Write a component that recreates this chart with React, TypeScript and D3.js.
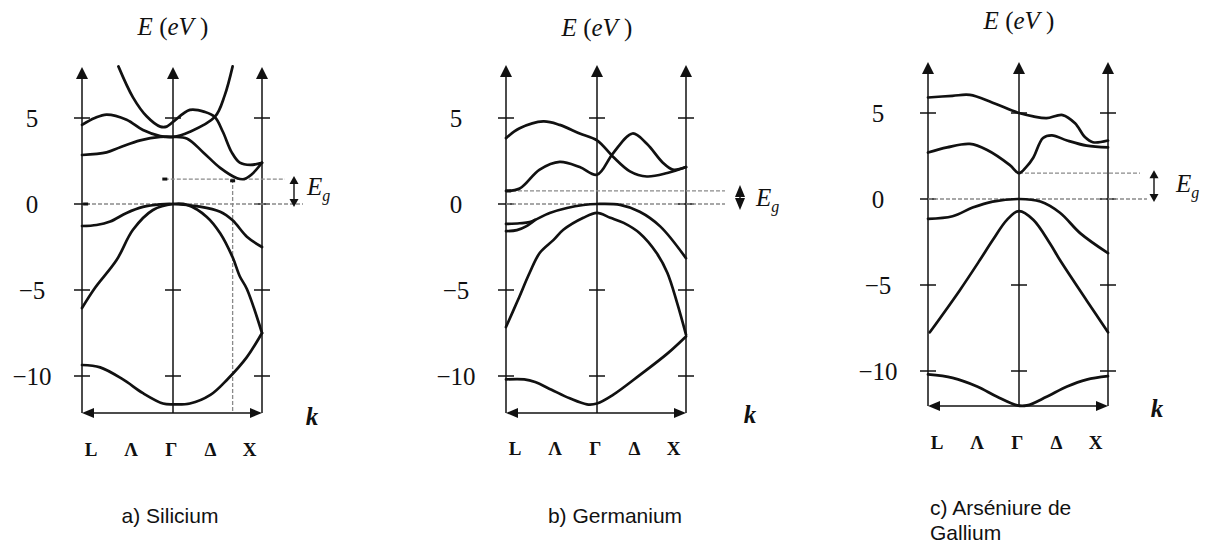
import React from 'react';
import * as d3 from 'd3';

// Band points are [k, E]: k runs L = -1, Γ = 0, X = 1; E in eV.
type Pt = [number, number];

const kPointLabels = ['L', 'Λ', 'Γ', 'Δ', 'X'];
const kPointPositions = [-0.9, -0.46, -0.02, 0.42, 0.86];
const energyTicks = [5, 0, -5, -10];
const energyTickLabels = ['5', '0', '−5', '−10'];

// a) Silicium
const siCondA: Pt[] = [[-0.6, 8.0], [-0.44, 6.2], [-0.29, 5.1], [-0.14, 4.5], [-0.07, 4.5], [0, 4.77], [0.19, 5.47], [0.36, 5.35], [0.47, 5.06], [0.56, 4.2], [0.66, 3.0], [0.75, 2.4], [0.87, 2.27], [1, 2.4]];
const siCondB: Pt[] = [[-1, 4.6], [-0.86, 5.0], [-0.73, 5.2], [-0.51, 4.9], [-0.33, 4.3], [-0.14, 3.95], [0, 3.9], [0.19, 4.2], [0.47, 5.06], [0.58, 6.3], [0.67, 8.0]];
const siCondC: Pt[] = [[-1, 2.85], [-0.73, 3.0], [-0.58, 3.3], [-0.36, 3.7], [-0.14, 3.9], [0, 3.9], [0.16, 3.8], [0.34, 3.0], [0.53, 2.1], [0.72, 1.5], [0.8, 1.45], [0.88, 1.7], [1, 2.4]];
const siValHeavy: Pt[] = [[-1, -1.28], [-0.84, -1.22], [-0.69, -1.02], [-0.51, -0.52], [-0.33, -0.17], [-0.14, -0.02], [0, 0], [0.3, -0.15], [0.53, -0.45], [0.67, -0.95], [0.83, -1.9], [1, -2.5]];
const siValLight: Pt[] = [[-1, -6.05], [-0.86, -4.9], [-0.62, -3.26], [-0.44, -1.5], [-0.22, -0.35], [0, 0], [0.16, -0.05], [0.38, -0.75], [0.53, -1.7], [0.67, -3.1], [0.75, -4.2], [0.83, -4.94], [1, -7.5]];
const siValLow: Pt[] = [[-1, -9.36], [-0.8, -9.5], [-0.55, -10.2], [-0.33, -11.0], [-0.11, -11.6], [0, -11.65], [0.19, -11.6], [0.42, -11.1], [0.61, -10.2], [0.83, -8.9], [1, -7.5]];

// b) Germanium
const geCondA: Pt[] = [[-1, 3.83], [-0.85, 4.4], [-0.59, 4.8], [-0.41, 4.6], [-0.19, 4.1], [0, 3.7], [0.18, 2.75], [0.37, 1.9], [0.56, 1.6], [0.79, 1.8], [1, 2.15]];
const geCondB: Pt[] = [[-1, 0.76], [-0.85, 0.9], [-0.63, 2.0], [-0.41, 2.45], [-0.19, 2.15], [0, 1.7], [0.18, 2.95], [0.4, 4.1], [0.56, 3.5], [0.74, 2.4], [0.85, 2.0], [1, 2.15]];
const geValHeavy: Pt[] = [[-1, -1.16], [-0.85, -1.12], [-0.74, -1.05], [-0.52, -0.52], [-0.33, -0.23], [-0.15, -0.06], [0, 0], [0.26, -0.05], [0.48, -0.45], [0.71, -1.3], [1, -3.15]];
const geValSplit: Pt[] = [[-1, -1.58], [-0.88, -1.52], [-0.78, -1.3], [-0.68, -0.92]];
const geValLight: Pt[] = [[-1, -7.15], [-0.87, -5.6], [-0.74, -4.0], [-0.63, -2.85], [-0.48, -2.1], [-0.37, -1.5], [-0.15, -0.8], [0, -0.52], [0.15, -0.8], [0.3, -1.1], [0.48, -1.7], [0.67, -2.85], [0.79, -4.0], [0.9, -5.75], [1, -7.6]];
const geValLow: Pt[] = [[-1, -10.2], [-0.8, -10.2], [-0.68, -10.35], [-0.5, -10.8], [-0.3, -11.3], [-0.11, -11.65], [0, -11.6], [0.18, -11.1], [0.48, -9.95], [0.79, -8.7], [1, -7.7]];

// c) Arséniure de Gallium
const gaCondA: Pt[] = [[-1, 5.9], [-0.73, 6.0], [-0.54, 6.05], [-0.29, 5.6], [0, 5.0], [0.16, 4.8], [0.31, 4.7], [0.49, 4.88], [0.63, 4.4], [0.74, 3.6], [0.83, 3.3], [1, 3.4]];
const gaCondB: Pt[] = [[-1, 2.7], [-0.79, 3.0], [-0.54, 3.2], [-0.35, 2.85], [-0.1, 1.97], [0, 1.5], [0.08, 1.85], [0.16, 2.4], [0.27, 3.55], [0.37, 3.7], [0.54, 3.4], [0.76, 3.1], [1, 3.0]];
const gaValHeavy: Pt[] = [[-1, -1.15], [-0.73, -1.0], [-0.51, -0.5], [-0.29, -0.15], [0, 0], [0.24, -0.15], [0.46, -0.8], [0.69, -2.0], [1, -3.15]];
const gaValLight: Pt[] = [[-0.98, -7.75], [-0.65, -5.3], [-0.43, -3.55], [-0.29, -2.4], [-0.13, -1.2], [0, -0.7], [0.16, -1.2], [0.35, -2.6], [0.46, -3.55], [0.76, -5.9], [1, -7.75]];
const gaValLow: Pt[] = [[-1, -10.2], [-0.73, -10.4], [-0.46, -10.9], [-0.24, -11.5], [-0.02, -12.0], [0.09, -12.0], [0.31, -11.5], [0.54, -10.9], [0.76, -10.5], [1, -10.3]];

// Band gap levels (eV)
const siGap = 1.45;
const geGap = 0.76;
const gaGap = 1.5;

interface Panel {
  bands: Pt[][];
  caption: string[];
  captionX: number;
  captionY: number;
  captionAnchor: 'middle' | 'start';
  xL: number; xG: number; xX: number;
  y0: number; yTop: number; yBottom: number;
  titleY: number;
  kLabelY: number;
  kSymX: number; kSymY: number;
  gap: number;
  gapStartK: number;
  gapUpperEnd: number;
  gapZeroStart: number;
  gapZeroEnd: number;
  gapArrowX: number;
  arrowOverhang: number;
  arrowHead: number;
  egX: number; egY: number;
  verticalK?: number;
  marks: Pt[];
}

const panels: Panel[] = [
  {
    bands: [siCondA, siCondB, siCondC, siValHeavy, siValLight, siValLow],
    caption: ['a) Silicium'], captionX: 170, captionY: 523, captionAnchor: 'middle',
    xL: 82, xG: 173, xX: 262, y0: 204, yTop: 67, yBottom: 413, titleY: 35,
    kLabelY: 456, kSymX: 312, kSymY: 425,
    gap: siGap, gapStartK: -0.09, gapUpperEnd: 285, gapZeroStart: 86, gapZeroEnd: 303,
    gapArrowX: 294, arrowOverhang: 3, arrowHead: 8, egX: 307, egY: 195, verticalK: 0.67,
    marks: [[-0.09, siGap], [-0.96, 0], [0.67, siGap - 0.1]],
  },
  {
    bands: [geCondA, geCondB, geValHeavy, geValSplit, geValLight, geValLow],
    caption: ['b) Germanium'], captionX: 615, captionY: 523, captionAnchor: 'middle',
    xL: 506, xG: 597, xX: 686, y0: 204, yTop: 65, yBottom: 413, titleY: 36,
    kLabelY: 455, kSymX: 750, kSymY: 423,
    gap: geGap, gapStartK: -1, gapUpperEnd: 725, gapZeroStart: 506, gapZeroEnd: 725,
    gapArrowX: 740, arrowOverhang: 6, arrowHead: 12, egX: 756, egY: 206,
    marks: [[-0.97, geGap]],
  },
  {
    bands: [gaCondA, gaCondB, gaValHeavy, gaValLight, gaValLow],
    caption: ['c) Arséniure de', 'Gallium'], captionX: 930, captionY: 515, captionAnchor: 'start',
    xL: 928, xG: 1019, xX: 1108, y0: 199, yTop: 62, yBottom: 406, titleY: 29,
    kLabelY: 449, kSymX: 1157, kSymY: 417,
    gap: gaGap, gapStartK: 0, gapUpperEnd: 1140, gapZeroStart: 928, gapZeroEnd: 1147,
    gapArrowX: 1154, arrowOverhang: 3, arrowHead: 8, egX: 1176, egY: 192,
    marks: [],
  },
];

const INK = '#111';
const DASH = '#8a8a8a';
const serif = '"Liberation Serif", "Times New Roman", serif';
const sans = '"Liberation Sans", Arial, sans-serif';
const PX_PER_EV = 17.2;

function BandPanel({ p }: { p: Panel }) {
  const x = d3.scaleLinear().domain([-1, 0, 1]).range([p.xL, p.xG, p.xX]);
  const y = d3.scaleLinear().domain([0, -5]).range([p.y0, p.y0 + 5 * PX_PER_EV]);
  const line = d3.line<Pt>().x(d => x(d[0])).y(d => y(d[1])).curve(d3.curveCatmullRom.alpha(0.5));
  const axisXs = [p.xL, p.xG, p.xX];
  const yGap = y(p.gap);
  const yZero = y(0);
  const ah = 12, aw = 6;
  const head = p.arrowHead, hw = p.arrowHead > 8 ? 5 : 4.5;
  const tipTop = yGap - p.arrowOverhang;
  const tipBottom = yZero + p.arrowOverhang;
  const shaft = tipBottom - tipTop - 2 * head;

  return (
    <g>
      {/* vertical axes with arrowheads */}
      {axisXs.map((ax, i) => (
        <g key={'ax' + i}>
          <line x1={ax} x2={ax} y1={p.yBottom} y2={p.yTop + ah - 1} stroke={INK} strokeWidth={1.5} />
          <path d={`M${ax},${p.yTop} L${ax - aw},${p.yTop + ah} L${ax + aw},${p.yTop + ah} Z`} fill={INK} />
          {energyTicks.map(t => (
            <line key={t} x1={ax - 8} x2={ax + 8} y1={y(t)} y2={y(t)} stroke={INK} strokeWidth={1.5} />
          ))}
        </g>
      ))}
      {/* k axis, arrows at both ends */}
      <line x1={p.xL + 10} x2={p.xX - 10} y1={p.yBottom} y2={p.yBottom} stroke={INK} strokeWidth={1.5} />
      <path d={`M${p.xL},${p.yBottom} L${p.xL + 12},${p.yBottom - 5} L${p.xL + 12},${p.yBottom + 5} Z`} fill={INK} />
      <path d={`M${p.xX},${p.yBottom} L${p.xX - 12},${p.yBottom - 5} L${p.xX - 12},${p.yBottom + 5} Z`} fill={INK} />

      {/* energy tick labels */}
      {energyTicks.map((t, i) => (
        <text key={'tl' + t} x={p.xL - 50} y={y(t) + 9} textAnchor="middle" fontFamily={serif} fontSize={25} fill={INK}>
          {energyTickLabels[i]}
        </text>
      ))}

      {/* title */}
      <text x={p.xG} y={p.titleY} textAnchor="middle" fontFamily={serif} fontSize={25} fill={INK}>
        <tspan fontStyle="italic">E</tspan>
        <tspan> (</tspan>
        <tspan fontStyle="italic">eV</tspan>
        <tspan> )</tspan>
      </text>

      {/* k-point labels */}
      {kPointLabels.map((lab, i) => (
        <text key={lab} x={x(kPointPositions[i])} y={p.kLabelY} textAnchor="middle" fontFamily={serif} fontSize={19} fontWeight="bold" fill={INK}>
          {lab}
        </text>
      ))}
      <text x={p.kSymX} y={p.kSymY} textAnchor="middle" fontFamily={serif} fontSize={25} fontStyle="italic" fontWeight="bold" fill={INK}>
        k
      </text>

      {/* band gap guides */}
      <line x1={x(p.gapStartK)} x2={p.gapUpperEnd} y1={yGap} y2={yGap} stroke={DASH} strokeWidth={1.3} strokeDasharray="4,2" />
      <line x1={p.gapZeroStart} x2={p.gapZeroEnd} y1={yZero} y2={yZero} stroke={DASH} strokeWidth={1.3} strokeDasharray="4,2" />
      {p.verticalK !== undefined && (
        <line x1={x(p.verticalK)} x2={x(p.verticalK)} y1={yGap} y2={p.yBottom} stroke={DASH} strokeWidth={1.3} strokeDasharray="4,2" />
      )}
      {p.marks.map((m, i) => (
        <rect key={'m' + i} x={x(m[0]) - 2.5} y={y(m[1]) - 1.5} width={5} height={3} fill={INK} />
      ))}
      {shaft > 0 && (
        <line x1={p.gapArrowX} x2={p.gapArrowX} y1={tipTop + head - 1} y2={tipBottom - head + 1} stroke={INK} strokeWidth={1.4} />
      )}
      <path d={`M${p.gapArrowX},${tipTop} L${p.gapArrowX - hw},${tipTop + head} L${p.gapArrowX + hw},${tipTop + head} Z`} fill={INK} />
      <path d={`M${p.gapArrowX},${tipBottom} L${p.gapArrowX - hw},${tipBottom - head} L${p.gapArrowX + hw},${tipBottom - head} Z`} fill={INK} />
      <text x={p.egX} y={p.egY} fontFamily={serif} fontSize={25} fontStyle="italic" fill={INK}>
        E
        <tspan fontSize={16} dy={6}>g</tspan>
      </text>

      {/* energy bands */}
      {p.bands.map((b, i) => (
        <path key={'b' + i} d={line(b) || ''} fill="none" stroke={INK} strokeWidth={2.7} strokeLinejoin="round" strokeLinecap="round" />
      ))}

      {/* caption */}
      {p.caption.map((c, i) => (
        <text key={'c' + i} x={p.captionX} y={p.captionY + i * 25} textAnchor={p.captionAnchor} fontFamily={sans} fontSize={21} fill={INK}>
          {c}
        </text>
      ))}
    </g>
  );
}

export default function App() {
  return (
    <svg width={1211} height={544} viewBox="0 0 1211 544" style={{ position: 'absolute', left: 0, top: 0, background: '#fff' }}>
      <rect width={1211} height={544} fill="#fff" />
      {panels.map((p, i) => (
        <BandPanel key={i} p={p} />
      ))}
    </svg>
  );
}
